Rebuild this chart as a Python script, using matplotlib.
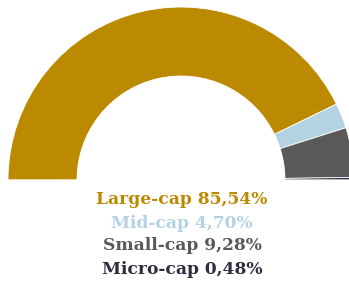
import matplotlib
matplotlib.use("Agg")
import matplotlib.pyplot as plt

categories = ["Large-cap", "Mid-cap", "Small-cap", "Micro-cap"]
values = [85.54, 4.70, 9.28, 0.48]
labels = ["85,54%", "4,70%", "9,28%", "0,48%"]
colors = ["#BB8A00", "#B3D3E2", "#595959", "#2D2D3F"]

W, H = 349, 287
fig = plt.figure(figsize=(W / 100, H / 100), dpi=100)
ax = fig.add_axes([0, 0, 1, 1])

cx, cy = 181, H - 180
R, ring = 173, 69
total = sum(values)
ax.pie(values + [total], colors=colors + ["none"], startangle=180,
       counterclock=False, center=(cx, cy), radius=R,
       wedgeprops=dict(width=ring, edgecolor="white", linewidth=0.6))
ax.set_xlim(0, W)
ax.set_ylim(0, H)
ax.set_aspect("auto")
ax.axis("off")

ys = [200, 223, 246, 270]
for cat, lab, col, y in zip(categories, labels, colors, ys):
    ax.text(182, H - y, f"{cat} {lab}", ha="center", va="center",
            fontsize=12.3, fontweight="bold", family="DejaVu Serif", color=col)

fig.savefig("out.png", dpi=100)
